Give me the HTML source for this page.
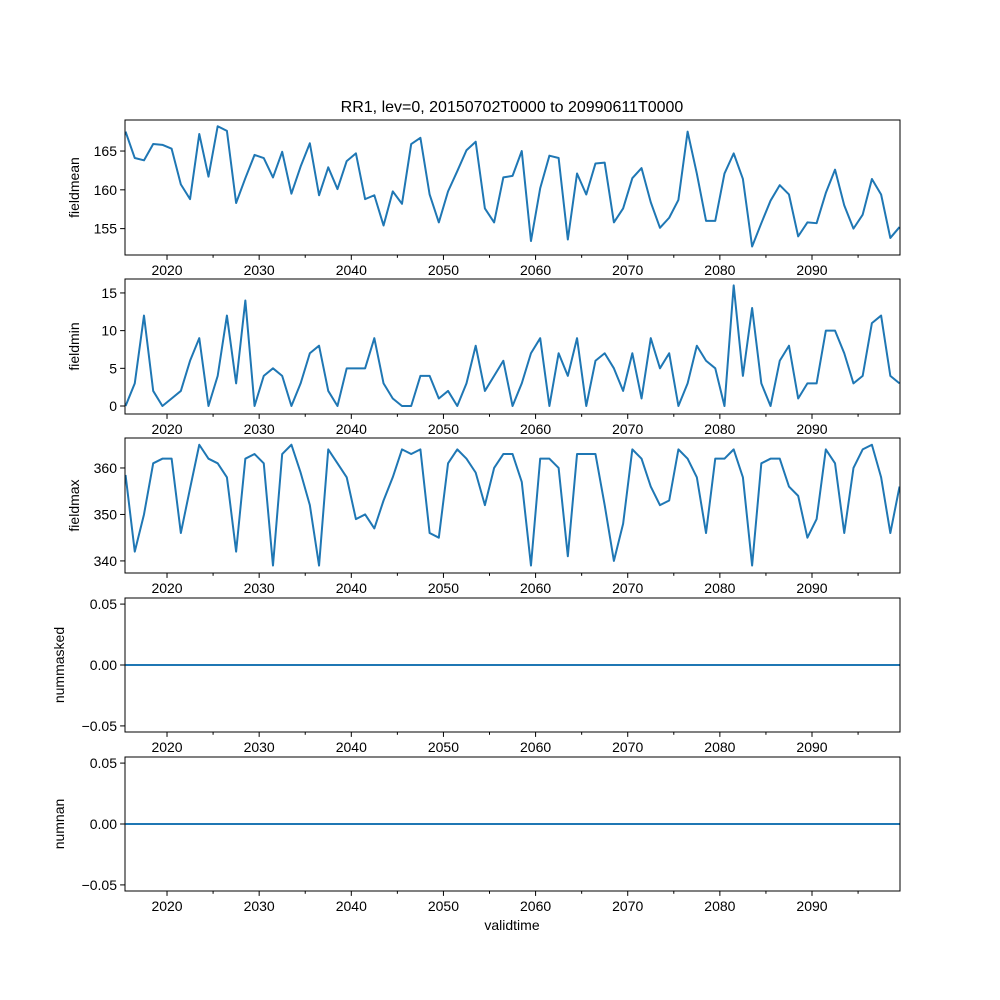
<!DOCTYPE html>
<html><head><meta charset="utf-8"><style>
html,body{margin:0;padding:0;background:#fff;}
svg{display:block;font-family:"Liberation Sans","DejaVu Sans",sans-serif;}
</style></head><body>
<svg id="chart" width="1000" height="1000" viewBox="0 0 1000 1000">
<rect width="1000" height="1000" fill="#fff"/>
<text x="512" y="112" font-size="16" text-anchor="middle">RR1, lev=0, 20150702T0000 to 20990611T0000</text>
<text x="512" y="930" font-size="14" text-anchor="middle">validtime</text>
</svg>
<script>
const years = Array.from({length:85},(_,i)=>2015.5+i);
const fieldmean = [167.5,164.1,163.8,165.9,165.8,165.3,160.7,158.8,167.2,161.7,168.2,167.6,158.3,161.5,164.5,164.1,161.6,164.9,159.5,163.0,166.0,159.3,162.9,160.1,163.7,164.7,158.8,159.3,155.4,159.8,158.2,165.9,166.7,159.4,155.8,159.8,162.4,165.1,166.2,157.6,155.8,161.6,161.8,165.0,153.4,160.2,164.4,164.1,153.6,162.1,159.4,163.4,163.5,155.8,157.6,161.5,162.8,158.4,155.1,156.4,158.7,167.5,162.1,156.0,156.0,162.1,164.7,161.4,152.7,155.7,158.6,160.6,159.4,154.0,155.8,155.7,159.6,162.6,158.0,155.0,156.8,161.4,159.4,153.8,155.2];
const fieldmin = [0,3,12,2,0,1,2,6,9,0,4,12,3,14,0,4,5,4,0,3,7,8,2,0,5,5,5,9,3,1,0,0,4,4,1,2,0,3,8,2,4,6,0,3,7,9,0,7,4,9,0,6,7,5,2,7,1,9,5,7,0,3,8,6,5,0,16,4,13,3,0,6,8,1,3,3,10,10,7,3,4,11,12,4,3];
const fieldmax = [358.5,342,350,361,362,362,346,355.6,365,362,361,358,342,362,363,361,339,363,365,359,352,339,364,361,358,349,350,347,353,358,364,363,364,346,345,361,364,362,359,352,360,363,363,357,339,362,362,360,341,363,363,363,352,340,348,364,362,356,352,353,364,362,358,346,362,362,364,358,339,361,362,362,356,354,345,349,364,361,346,360,364,365,358,346,356];
const nummasked = new Array(85).fill(0);
const numnan = new Array(85).fill(0);
const xTicks = [2020,2030,2040,2050,2060,2070,2080,2090];
const xMinor = [2025,2035,2045,2055,2065,2075,2085,2095];

const NS="http://www.w3.org/2000/svg";
const svg=document.getElementById('chart');
const X0=125,X1=900,XMIN=2015.44,XMAX=2099.55;
const xs=v=>X0+(v-XMIN)/(XMAX-XMIN)*(X1-X0);
function mk(tag,attrs,parent){const e=document.createElementNS(NS,tag);for(const k in attrs)e.setAttribute(k,attrs[k]);(parent||svg).appendChild(e);return e;}

const panels=[
 {key:'fieldmean',data:fieldmean,top:120,bot:255,ymin:151.6,ymax:169.0,ticks:[155,160,165],fmt:v=>String(v)},
 {key:'fieldmin',data:fieldmin,top:279,bot:414,ymin:-1.06,ymax:16.85,ticks:[0,5,10,15],fmt:v=>String(v)},
 {key:'fieldmax',data:fieldmax,top:438,bot:573,ymin:337.4,ymax:366.45,ticks:[340,350,360],fmt:v=>String(v)},
 {key:'nummasked',data:nummasked,top:598,bot:732,ymin:-0.055,ymax:0.055,ticks:[-0.05,0,0.05],fmt:v=>v.toFixed(2).replace('-','\u2212')},
 {key:'numnan',data:numnan,top:757,bot:891,ymin:-0.055,ymax:0.055,ticks:[-0.05,0,0.05],fmt:v=>v.toFixed(2).replace('-','\u2212')}
];
panels.forEach(p=>{
  const g=mk('g',{});
  
  
  const ys=v=>p.bot-(v-p.ymin)/(p.ymax-p.ymin)*(p.bot-p.top);
  const pts=p.data.map((v,i)=>xs(years[i]).toFixed(2)+','+ys(v).toFixed(2)).join(' ');
  const cp=mk('clipPath',{id:'clip-'+p.key},g);
  mk('rect',{x:X0,y:p.top,width:X1-X0,height:p.bot-p.top},cp);
  const line=mk('polyline',{points:pts,fill:'none',stroke:'#1f77b4','stroke-width':2,'stroke-linejoin':'round','clip-path':'url(#clip-'+p.key+')'},g);
  
  
  const fr=mk('rect',{x:X0,y:p.top,width:X1-X0,height:p.bot-p.top,fill:'none',stroke:'#000','stroke-width':1},g);
  
  
  p.ticks.forEach(t=>{
    const y=ys(t);
    mk('line',{x1:X0-4.9,x2:X0,y1:y,y2:y,stroke:'#000','stroke-width':1},g);
    const tx=mk('text',{x:X0-8,y:y+5,'font-size':14,'text-anchor':'end'},g);
    tx.textContent=p.fmt(t);
    
    
  });
  xTicks.forEach(t=>{
    const x=xs(t);
    mk('line',{x1:x,x2:x,y1:p.bot,y2:p.bot+4.9,stroke:'#000','stroke-width':1},g);
    const tx=mk('text',{x:x,y:p.bot+20,'font-size':14,'text-anchor':'middle'},g);
    tx.textContent=String(t);
    
    
  });
  xMinor.forEach(t=>{
    const x=xs(t);
    mk('line',{x1:x,x2:x,y1:p.bot,y2:p.bot+2.8,stroke:'#000','stroke-width':1},g);
  });
  const cy=(p.top+p.bot)/2;
  const lx=p.key.startsWith('num')?64:79;
  const yl=mk('text',{x:lx,y:cy,'font-size':14,'text-anchor':'middle',transform:'rotate(-90 '+lx+' '+cy+')'},g);
  yl.textContent=p.key;
  
  
});
</script>
</body></html>
